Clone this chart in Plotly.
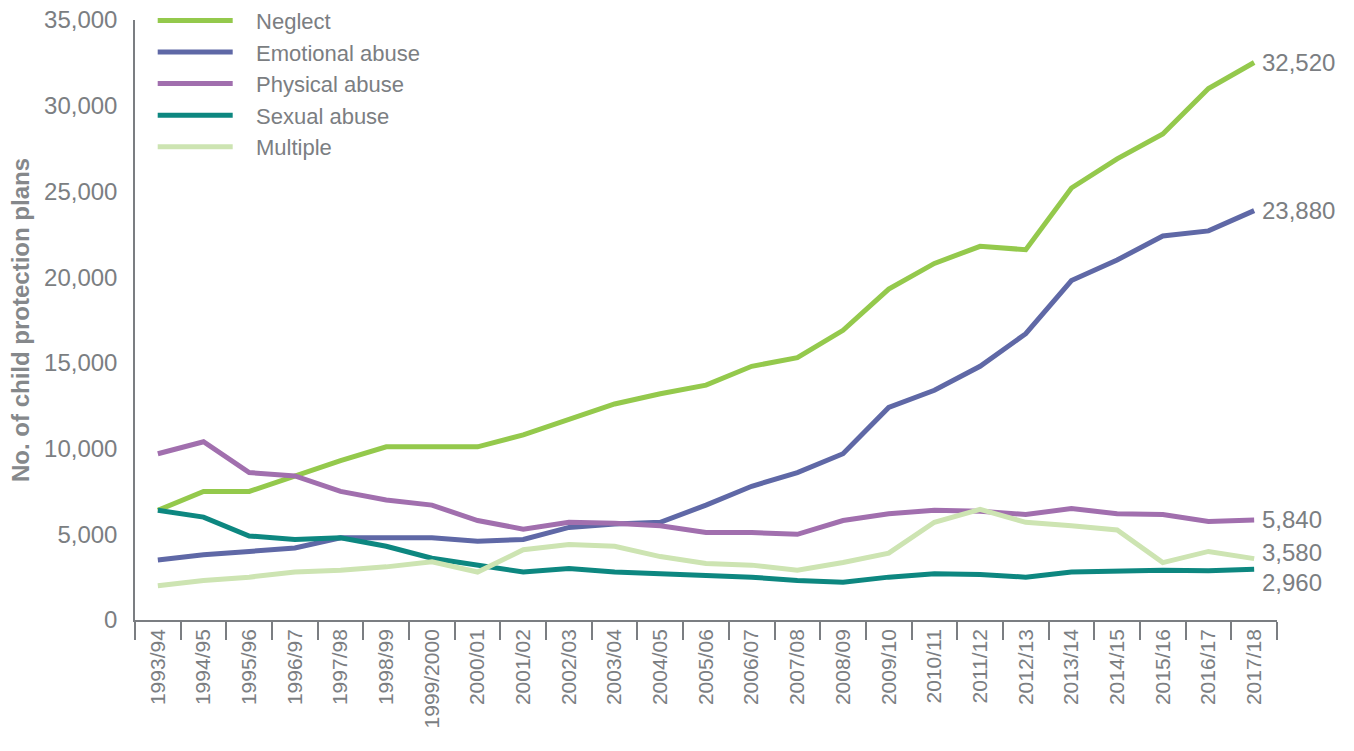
import plotly.graph_objects as go

categories = ['1993/94', '1994/95', '1995/96', '1996/97', '1997/98', '1998/99', '1999/2000',
              '2000/01', '2001/02', '2002/03', '2003/04', '2004/05', '2005/06', '2006/07',
              '2007/08', '2008/09', '2009/10', '2010/11', '2011/12', '2012/13', '2013/14',
              '2014/15', '2015/16', '2016/17', '2017/18']

neglect = [6400, 7500, 7500, 8400, 9300, 10100, 10100, 10100, 10800, 11700, 12600, 13200, 13700,
           14800, 15300, 16900, 19300, 20800, 21800, 21600, 25200, 26900, 28350, 31000, 32520]
emotional = [3500, 3800, 4000, 4200, 4800, 4800, 4800, 4600, 4700, 5400, 5600, 5700, 6700,
             7800, 8600, 9700, 12400, 13400, 14800, 16700, 19800, 21000, 22400, 22700, 23880]
physical = [9700, 10400, 8600, 8400, 7500, 7000, 6700, 5800, 5300, 5700, 5650, 5500, 5100,
            5100, 5000, 5800, 6200, 6400, 6350, 6150, 6500, 6200, 6150, 5750, 5840]
sexual = [6400, 6000, 4900, 4700, 4800, 4300, 3600, 3200, 2800, 3000, 2800, 2700, 2600,
          2500, 2300, 2200, 2500, 2700, 2650, 2500, 2800, 2850, 2900, 2870, 2960]
multiple = [2000, 2300, 2500, 2800, 2900, 3100, 3400, 2800, 4100, 4400, 4300, 3700, 3300,
            3200, 2900, 3350, 3900, 5700, 6450, 5700, 5500, 5250, 3350, 4000, 3580]

series_names = ['Neglect', 'Emotional abuse', 'Physical abuse', 'Sexual abuse', 'Multiple']
series_values = [neglect, emotional, physical, sexual, multiple]
series_colors = ['#94c94c', '#5f68a6', '#a16fae', '#0d8780', '#cde4b2']
label_yshift = [0, 0, 0, -13, 6]

GREY = '#7b7e82'
FONT = 'Liberation Sans, Arial, Helvetica, sans-serif'
PAD = '\u00a0\u00a0\u00a0'

fig = go.Figure()
for name, vals, col in zip(series_names, series_values, series_colors):
    fig.add_trace(go.Scatter(x=categories, y=vals, name=PAD + name, mode='lines',
                             line=dict(color=col, width=5)))

for name, vals, col, ys in zip(series_names, series_values, series_colors, label_yshift):
    fig.add_annotation(x=categories[-1], y=vals[-1], xref='x', yref='y',
                       text=f'{vals[-1]:,}', showarrow=False, xanchor='left',
                       xshift=6, yshift=ys, font=dict(size=24, color=GREY, family=FONT))

fig.update_layout(
    width=1354, height=751,
    margin=dict(l=135, r=77, t=20, b=131, autoexpand=False),
    plot_bgcolor='white', paper_bgcolor='white',
    font=dict(family=FONT, size=24, color=GREY),
    showlegend=True,
    legend=dict(x=0.0155, y=1.034, xanchor='left', yanchor='top',
                font=dict(size=22, color=GREY), itemwidth=75,
                bgcolor='rgba(0,0,0,0)'),
    xaxis=dict(type='category', range=[-0.5, 24.5], showline=True, linecolor='#7b7e82',
               linewidth=1.5, ticks='outside', tickson='boundaries', ticklen=18,
               tickcolor='#7b7e82', tickwidth=1.5, tickangle=-90, showgrid=False,
               automargin=False, ticklabelstandoff=-1, ticklabeloverflow='allow',
               tickfont=dict(size=21, color=GREY)),
    yaxis=dict(range=[0, 35000], showline=True, linecolor='#7b7e82', linewidth=1.5,
               ticks='', showgrid=False, zeroline=False, tickformat=',d', dtick=5000,
               automargin=False, ticklabelstandoff=11, ticklabeloverflow='allow',
               tickfont=dict(size=24, color=GREY),
               title=dict(text='<b>No. of child protection plans</b>', standoff=8,
                          font=dict(size=24, color='#85888b'))),
)

fig.write_html('out.html', config={'displayModeBar': False},
               post_script="document.body.style.margin='0';")
